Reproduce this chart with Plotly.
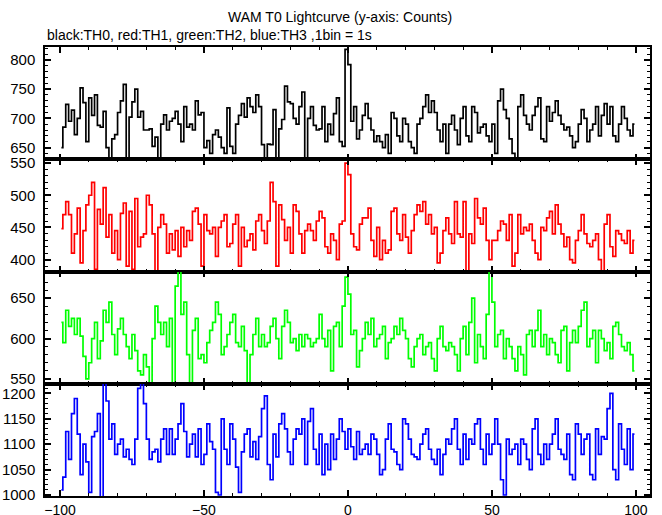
import numpy as np
import plotly.graph_objects as go
from plotly.subplots import make_subplots

# Bin centres (1 s bins, T0-relative)
time_s = np.arange(-99.5, 100.0, 1.0)

th0_counts = [
    650, 685, 724, 695, 714, 672, 700, 752, 727, 660,
    735, 705, 740, 688, 685, 712, 650, 625, 665, 672,
    710, 730, 758, 628, 702, 728, 750, 702, 712, 680,
    680, 682, 652, 668, 628, 690, 706, 680, 695, 700,
    712, 690, 660, 720, 685, 690, 680, 730, 706, 710,
    650, 662, 640, 672, 680, 668, 650, 640, 718, 652,
    640, 690, 705, 725, 702, 735, 720, 710, 740, 720,
    655, 628, 656, 655, 715, 628, 682, 698, 755, 728,
    725, 700, 690, 720, 745, 628, 700, 720, 688, 680,
    682, 720, 660, 690, 672, 708, 735, 660, 652, 818,
    792, 695, 720, 665, 680, 705, 725, 700, 680, 660,
    670, 660, 650, 672, 640, 710, 700, 670, 660, 700,
    690, 660, 650, 640, 690, 700, 720, 740, 710, 730,
    710, 680, 660, 690, 640, 690, 705, 680, 655, 700,
    720, 670, 660, 720, 710, 675, 685, 690, 670, 660,
    690, 640, 730, 750, 715, 700, 665, 640, 628, 720,
    740, 705, 690, 680, 705, 720, 735, 665, 660, 720,
    695, 710, 730, 705, 690, 680, 685, 670, 650, 660,
    690, 715, 700, 660, 680, 690, 720, 670, 705, 725,
    690, 720, 670, 660, 690, 720, 700, 680, 670, 690,
]

th1_counts = [
    448, 470, 490, 470, 410, 440, 480, 395, 445, 485,
    500, 520, 385, 478, 455, 512, 435, 470, 410, 445,
    400, 472, 488, 390, 475, 385, 495, 420, 435, 440,
    500, 485, 440, 380, 450, 470, 455, 410, 440, 415,
    445, 405, 450, 420, 445, 430, 475, 480, 455, 390,
    470, 445, 440, 450, 405, 450, 460, 470, 420, 425,
    455, 470, 390, 450, 420, 430, 440, 415, 460, 470,
    445, 425, 460, 520, 490, 390, 485, 462, 430, 450,
    410, 485, 475, 440, 410, 445, 455, 445, 430, 460,
    475, 465, 420, 410, 440, 430, 400, 455, 460, 550,
    532, 440, 420, 415, 455, 465, 465, 480, 430, 405,
    450, 400, 430, 410, 415, 475, 480, 440, 430, 470,
    435, 410, 445, 470, 485, 475, 490, 455, 470, 440,
    450, 395, 410, 445, 465, 440, 425, 490, 440, 435,
    490, 380, 440, 425, 495, 465, 455, 480, 430, 400,
    430, 430, 445, 460, 455, 430, 470, 390, 410, 470,
    440, 450, 445, 455, 430, 410, 400, 450, 445, 465,
    475, 440, 485, 455, 440, 420, 435, 400, 395, 430,
    445, 470, 440, 425, 420, 430, 440, 400, 380, 455,
    470, 420, 405, 445, 440, 430, 425, 445, 410, 430,
]

th2_counts = [
    620, 595, 635, 615, 625, 605, 625, 603, 578, 550,
    570, 600, 620, 575, 597, 635, 620, 645, 605, 580,
    612, 625, 605, 590, 575, 605, 585, 560, 555, 580,
    565, 545, 600, 640, 620, 605, 620, 590, 625, 545,
    665, 685, 630, 645, 580, 545, 610, 625, 575, 580,
    570, 595, 610, 620, 645, 630, 580, 590, 605, 620,
    630, 595, 590, 615, 585, 540, 580, 605, 625, 590,
    605, 590, 595, 615, 625, 600, 575, 615, 635, 620,
    595, 600, 585, 605, 590, 605, 600, 590, 595, 600,
    630, 600, 590, 610, 560, 615, 620, 590, 640, 676,
    655, 605, 610, 565, 585, 600, 620, 605, 625, 590,
    600, 605, 615, 575, 595, 600, 615, 605, 625, 610,
    600, 575, 565, 590, 600, 605, 580, 590, 595, 575,
    560, 600, 615, 590, 585, 595, 590, 580, 560, 600,
    615, 580, 620, 650, 570, 605, 590, 575, 630, 690,
    645, 590, 605, 610, 575, 600, 590, 575, 560, 590,
    580, 555, 605, 610, 590, 610, 635, 590, 605, 580,
    600, 595, 580, 570, 610, 615, 560, 595, 610, 595,
    615, 635, 645, 590, 600, 610, 570, 610, 600, 585,
    595, 575, 615, 620, 605, 590, 585, 595, 580, 560,
]

th3_counts = [
    1010, 1035, 1125, 1070, 1160, 1190, 1120, 1040, 1100, 1065,
    1005, 1115, 1125, 1160, 990, 1220, 1185, 1110, 1140, 1080,
    1100, 1110, 1075, 1090, 1070, 1060, 1110, 1210, 1222, 1180,
    1110, 1070, 1085, 1090, 1065, 1110, 1130, 1080, 1130, 1080,
    1110, 1140, 1180, 1125, 1075, 1100, 1120, 1075, 1130, 1060,
    1080, 1140, 1105, 1090, 1005, 1000, 1150, 1090, 1060, 1140,
    1110, 1055, 1005, 1085, 1120, 1130, 1075, 1105, 1070, 1115,
    1170, 1195, 1060, 1030, 1120, 1075, 1140, 1160, 1130, 1085,
    1060, 1110, 1130, 1120, 1150, 1060, 1145, 1170, 1090, 1060,
    1120, 1040, 1100, 1050, 1120, 1070, 1110, 1150, 1125, 1090,
    1130, 1095, 1070, 1125, 1080, 1090, 1100, 1080, 1120, 1110,
    1080, 1040, 1050, 1110, 1140, 1090, 1085, 1060, 1050, 1150,
    1140, 1110, 1080, 1075, 1070, 1100, 1120, 1130, 1090, 1070,
    1060, 1090, 1040, 1080, 1110, 1100, 1130, 1150, 1090, 1060,
    1120, 1070, 1110, 1100, 1140, 1150, 1090, 1060, 1120, 1080,
    1100, 1150, 1100, 1030, 1000, 1110, 1080, 1090, 1100, 1060,
    1110, 1100, 1070, 1050, 1130, 1150, 1080, 1060, 1100, 1070,
    1100, 1120, 1150, 1090, 1080, 1070, 1120, 1040, 1030, 1140,
    1120, 1080, 1110, 1120, 1040, 1030, 1130, 1080, 1115, 1110,
    1170, 1200, 1050, 1030, 1140, 1090, 1060, 1130, 1050, 1120,
]

series = [th0_counts, th1_counts, th2_counts, th3_counts]
colors = ["#000000", "#ff0000", "#00ff00", "#0000ff"]
y_ranges = [[630, 822], [381.5, 556], [544, 683], [998, 1219]]
domains = [[0.75, 1.0], [0.5, 0.75], [0.25, 0.5], [0.0, 0.25]]
x_range = [-105.2, 104.9]

FONT = "Liberation Sans, Arial, Helvetica, sans-serif"
ML, MR, MT, MB = 45, 12, 47, 19

fig = make_subplots(rows=4, cols=1, shared_xaxes=True, vertical_spacing=0)

for i, (vals, col) in enumerate(zip(series, colors)):
    fig.add_trace(
        go.Scatter(x=time_s, y=vals, mode="lines", line=dict(color=col, width=1.7, shape="hvh"),
                   showlegend=False, hoverinfo="x+y"),
        row=i + 1, col=1,
    )
    fig.update_yaxes(
        range=y_ranges[i], domain=domains[i], dtick=50, tick0=0,
        ticks="inside", ticklen=6, tickwidth=2, tickcolor="black",
        minor=dict(ticks="inside", dtick=10, ticklen=3, tickwidth=1, tickcolor="black"),
        showline=True, linecolor="black", linewidth=1.5, mirror="ticks",
        showgrid=False, zeroline=False, automargin=False,
        tickfont=dict(family=FONT, size=15, color="black"),
        ticklabelstandoff=5,
        row=i + 1, col=1,
    )
    fig.update_xaxes(
        range=x_range, dtick=50, tick0=0,
        ticks="inside", ticklen=6, tickwidth=2, tickcolor="black",
        minor=dict(ticks="inside", dtick=10, ticklen=3, tickwidth=1, tickcolor="black"),
        showline=True, linecolor="black", linewidth=1.5, mirror="ticks",
        showgrid=False, zeroline=False, automargin=False,
        tickfont=dict(family=FONT, size=14, color="black"),
        ticklabelstandoff=0,
        row=i + 1, col=1,
    )

plot_w = 662 - ML - MR
plot_h = 515 - MT - MB


def px_to_paper(px, py):
    return (px - ML) / plot_w, (515 - MB - py) / plot_h


tx, ty = px_to_paper(340, 17)
sx, sy = px_to_paper(45, 35)

fig.update_layout(
    width=662, height=515,
    margin=dict(l=ML, r=MR, t=MT, b=MB, autoexpand=False),
    paper_bgcolor="white", plot_bgcolor="white",
    font=dict(family=FONT, size=14, color="black"),
    annotations=[
        dict(text="WAM T0 Lightcurve (y-axis: Counts)", x=tx, y=ty, xref="paper", yref="paper",
             showarrow=False, xanchor="center", yanchor="middle",
             font=dict(family=FONT, size=14, color="black")),
        dict(text="black:TH0, red:TH1, green:TH2, blue:TH3 ,1bin = 1s", x=sx, y=sy,
             xref="paper", yref="paper", showarrow=False, xanchor="left", yanchor="middle",
             font=dict(family=FONT, size=14, color="black")),
    ],
)

fig.write_html(
    "out.html",
    config={"displayModeBar": False},
    post_script="document.body.style.margin='0';document.body.style.padding='0';",
)
